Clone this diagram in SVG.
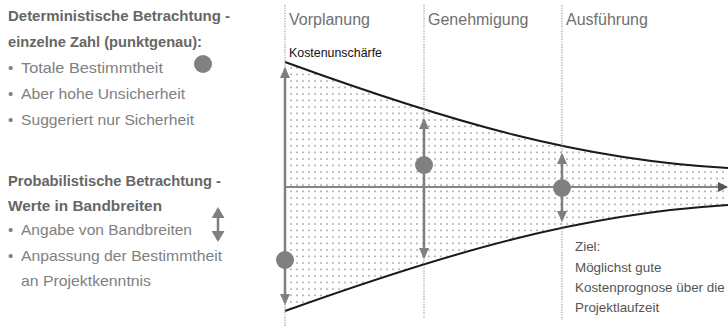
<svg xmlns="http://www.w3.org/2000/svg" width="728" height="328" viewBox="0 0 728 328">
  <defs>
    <style>
      .txt { font-family: "Liberation Sans", Arial, sans-serif; }
      .head { font-size: 14.5px; font-weight: bold; fill: #666; }
      .item { font-size: 15px; fill: #808080; }
      .phase { font-size: 16px; fill: #707070; }
      .note { font-size: 13.4px; fill: #555; }
      .small { font-size: 12.4px; fill: #111; }
      .guide { stroke: #999; stroke-width: 1.2; stroke-dasharray: 1.2 1.4; fill: none; }
      .band { stroke: #1a1a1a; stroke-width: 2; fill: none; }
      .range { stroke: #7f7f7f; stroke-width: 2.5; fill: none; }
      .axis { stroke: #858585; stroke-width: 2; fill: none; }
      .dot { fill: #808080; }
    </style>
    <pattern id="stipple" width="6" height="6.5" patternUnits="userSpaceOnUse">
      <circle cx="3" cy="3" r="0.8" fill="#8c8c8c"/>
    </pattern>
    <marker id="head" viewBox="0 0 11 10" refX="9" refY="5" markerWidth="11" markerHeight="10" markerUnits="userSpaceOnUse" orient="auto-start-reverse">
      <path d="M0,0 L11,5 L0,10 z" fill="#7f7f7f"/>
    </marker>
    <marker id="headLarge" viewBox="0 0 11 13" refX="9" refY="6.5" markerWidth="11" markerHeight="13" markerUnits="userSpaceOnUse" orient="auto-start-reverse">
      <path d="M0,0 L11,6.5 L0,13 z" fill="#7f7f7f"/>
    </marker>
    <marker id="axisHead" viewBox="0 0 10 10" refX="9" refY="5" markerWidth="10" markerHeight="10" markerUnits="userSpaceOnUse" orient="auto">
      <path d="M0,0 L10,5 L0,10 z" fill="#555"/>
    </marker>
  </defs>

  <!-- left-hand legend text -->
  <g id="legend-deterministic" class="txt">
    <text class="head" x="8" y="21" textLength="222" lengthAdjust="spacingAndGlyphs">Deterministische Betrachtung -</text>
    <text class="head" x="8" y="47" textLength="194" lengthAdjust="spacingAndGlyphs">einzelne Zahl (punktgenau):</text>
    <text class="item" x="8" y="73">•</text>
    <text class="item" x="21" y="73" textLength="142" lengthAdjust="spacingAndGlyphs">Totale Bestimmtheit</text>
    <text class="item" x="8" y="99">•</text>
    <text class="item" x="21" y="99" textLength="164" lengthAdjust="spacingAndGlyphs">Aber hohe Unsicherheit</text>
    <text class="item" x="8" y="125">•</text>
    <text class="item" x="21" y="125" textLength="173" lengthAdjust="spacingAndGlyphs">Suggeriert nur Sicherheit</text>
    <circle class="dot" cx="203" cy="64" r="9"/>
  </g>

  <g id="legend-probabilistic" class="txt">
    <text class="head" x="8" y="186" textLength="213" lengthAdjust="spacingAndGlyphs">Probabilistische Betrachtung -</text>
    <text class="head" x="8" y="211" textLength="154" lengthAdjust="spacingAndGlyphs">Werte in Bandbreiten</text>
    <text class="item" x="8" y="235">•</text>
    <text class="item" x="21" y="235" textLength="171" lengthAdjust="spacingAndGlyphs">Angabe von Bandbreiten</text>
    <text class="item" x="8" y="261">•</text>
    <text class="item" x="21" y="261" textLength="201" lengthAdjust="spacingAndGlyphs">Anpassung der Bestimmtheit</text>
    <text class="item" x="21" y="286" textLength="130" lengthAdjust="spacingAndGlyphs">an Projektkenntnis</text>
    <line class="range" x1="218" y1="209" x2="218" y2="240" marker-start="url(#headLarge)" marker-end="url(#headLarge)"/>
  </g>

  <!-- cost uncertainty band -->
  <g id="band">
    <path d="M285,62 C450,122 580,160 728,168 L728,205 C580,214 450,252 285,311 Z" fill="url(#stipple)"/>
    <path class="band" d="M285,62 C450,122 580,160 728,168"/>
    <path class="band" d="M285,311 C450,252 580,214 728,205"/>
  </g>

  <!-- phase boundaries -->
  <g id="phases">
    <line class="guide" x1="285" y1="5" x2="285" y2="326"/>
    <line class="guide" x1="424" y1="5" x2="424" y2="318"/>
    <line class="guide" x1="562" y1="5" x2="562" y2="320"/>
    <text class="txt phase" x="289" y="25">Vorplanung</text>
    <text class="txt phase" x="428" y="25">Genehmigung</text>
    <text class="txt phase" x="566" y="25">Ausführung</text>
    <text class="txt small" x="289" y="57">Kostenunschärfe</text>
  </g>

  <!-- axes and ranges per phase -->
  <g id="connectors">
    <line class="axis" x1="285" y1="187" x2="727" y2="187" marker-end="url(#axisHead)"/>
    <line class="range" x1="285" y1="69" x2="285" y2="303" marker-start="url(#head)" marker-end="url(#head)"/>
    <line class="range" x1="424" y1="120" x2="424" y2="257" marker-start="url(#head)" marker-end="url(#head)"/>
    <line class="range" x1="562" y1="155" x2="562" y2="220" marker-start="url(#head)" marker-end="url(#head)"/>
  </g>

  <g id="estimates">
    <circle class="dot" cx="285" cy="260" r="9"/>
    <circle class="dot" cx="424" cy="165" r="9"/>
    <circle class="dot" cx="562" cy="188" r="9"/>
  </g>

  <!-- goal note -->
  <g id="goal" class="txt">
    <text class="note" x="575" y="251">Ziel:</text>
    <text class="note" x="575" y="272">Möglichst gute</text>
    <text class="note" x="575" y="292">Kostenprognose über die</text>
    <text class="note" x="575" y="312">Projektlaufzeit</text>
  </g>
</svg>
